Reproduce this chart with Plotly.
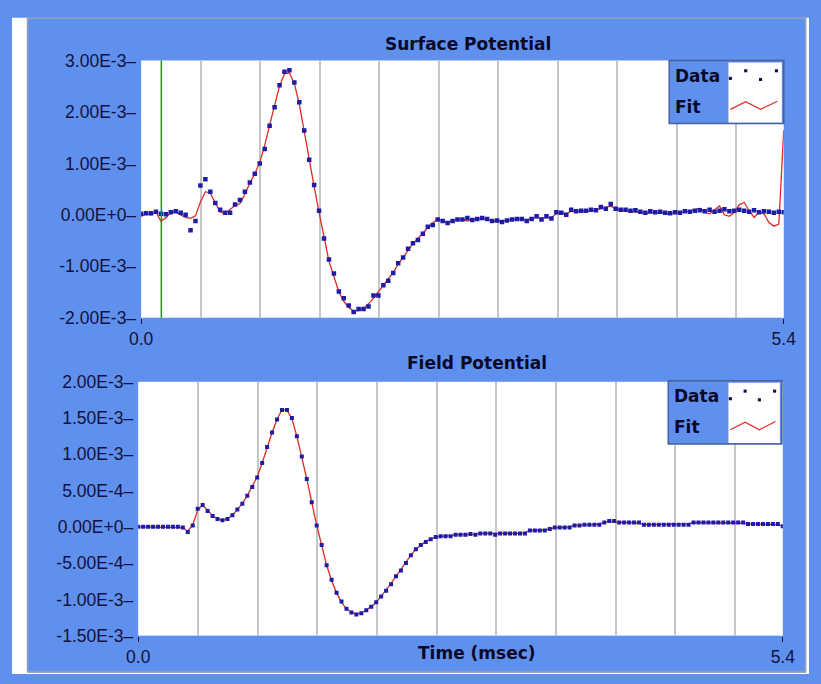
import numpy as np
import plotly.graph_objects as go

W, H = 821, 684
SCALE = 1e-3
T_MAX = 5.4
CURSOR_T = 0.17
GRID_STEP = 0.5

# ---- data (values in units of 1e-3) ----
surface_data = [
    0.02, 0.03, 0.03, 0.06, 0.02, 0.01, 0.05, 0.07, 0.04, 0.00,
    -0.30, -0.12, 0.57, 0.69, 0.45, 0.23, 0.10, 0.04, 0.04, 0.20,
    0.29, 0.45, 0.63, 0.80, 1.00, 1.28, 1.73, 2.09, 2.52, 2.78,
    2.81, 2.57, 2.19, 1.64, 1.07, 0.58, 0.08, -0.46, -0.87, -1.14,
    -1.49, -1.62, -1.76, -1.89, -1.83, -1.83, -1.78, -1.57, -1.57, -1.37,
    -1.28, -1.13, -0.94, -0.83, -0.66, -0.55, -0.49, -0.37, -0.23, -0.20,
    -0.09, -0.12, -0.16, -0.12, -0.09, -0.09, -0.06, -0.10, -0.08, -0.06,
    -0.08, -0.12, -0.11, -0.14, -0.11, -0.09, -0.08, -0.08, -0.12, -0.08,
    -0.03, -0.09, -0.03, -0.07, 0.05, 0.04, 0.00, 0.10, 0.07, 0.08,
    0.08, 0.10, 0.09, 0.15, 0.12, 0.21, 0.12, 0.10, 0.10, 0.08,
    0.09, 0.06, 0.04, 0.07, 0.05, 0.06, 0.04, 0.03, 0.05, 0.04,
    0.07, 0.06, 0.08, 0.09, 0.07, 0.10, 0.06, 0.08, 0.11, 0.07,
    0.08, 0.10, 0.08, 0.06, 0.09, 0.05, 0.07, 0.06, 0.04, 0.06,
    0.05,
]
surface_fit = [
    -0.03, 0.02, 0.00, 0.05, -0.12, -0.06, 0.05, 0.05, 0.00, -0.05,
    -0.07, -0.02, 0.25, 0.45, 0.42, 0.22, 0.05, 0.03, 0.10, 0.18,
    0.22, 0.40, 0.62, 0.80, 1.02, 1.35, 1.75, 2.15, 2.50, 2.74,
    2.76, 2.55, 2.15, 1.62, 1.05, 0.55, 0.05, -0.45, -0.90, -1.20,
    -1.50, -1.68, -1.80, -1.87, -1.86, -1.82, -1.73, -1.62, -1.50, -1.38,
    -1.26, -1.12, -0.96, -0.82, -0.68, -0.56, -0.46, -0.35, -0.25, -0.16,
    -0.08, -0.12, -0.14, -0.12, -0.10, -0.09, -0.12, -0.09, -0.08, -0.07,
    -0.09, -0.12, -0.13, -0.12, -0.10, -0.09, -0.09, -0.08, -0.10, -0.08,
    -0.05, -0.07, -0.05, -0.06, 0.03, 0.04, 0.02, 0.07, 0.06, 0.07,
    0.08, 0.09, 0.09, 0.12, 0.14, 0.17, 0.12, 0.09, 0.08, 0.07,
    0.06, 0.05, 0.03, 0.04, 0.03, 0.04, 0.03, 0.02, 0.04, 0.05,
    0.06, 0.07, 0.10, 0.13, 0.05, 0.02, 0.10, 0.17, 0.00, -0.03,
    0.05, 0.20, 0.24, 0.08, -0.05, 0.05, 0.02, -0.15, -0.22, -0.18,
    1.65,
]
field_data = [
    0.00, 0.00, 0.00, 0.00, 0.00, 0.00, 0.00, 0.00, 0.00, -0.01,
    -0.07, 0.02, 0.25, 0.30, 0.22, 0.15, 0.11, 0.09, 0.11, 0.16,
    0.24, 0.32, 0.43, 0.55, 0.68, 0.88, 1.10, 1.30, 1.48, 1.61,
    1.61, 1.50, 1.25, 0.97, 0.66, 0.34, 0.02, -0.25, -0.53, -0.73,
    -0.91, -1.03, -1.13, -1.18, -1.21, -1.19, -1.15, -1.10, -1.04, -0.96,
    -0.88, -0.79, -0.68, -0.60, -0.50, -0.39, -0.31, -0.25, -0.21, -0.17,
    -0.14, -0.13, -0.13, -0.13, -0.11, -0.11, -0.11, -0.10, -0.11, -0.09,
    -0.09, -0.09, -0.11, -0.09, -0.09, -0.09, -0.09, -0.09, -0.09, -0.05,
    -0.05, -0.05, -0.05, -0.03, -0.01, -0.01, -0.01, -0.01, 0.02, 0.02,
    0.03, 0.03, 0.03, 0.03, 0.06, 0.08, 0.08, 0.06, 0.06, 0.06,
    0.06, 0.06, 0.03, 0.03, 0.03, 0.03, 0.03, 0.03, 0.03, 0.03,
    0.03, 0.03, 0.06, 0.06, 0.06, 0.06, 0.06, 0.06, 0.06, 0.06,
    0.06, 0.06, 0.06, 0.04, 0.04, 0.04, 0.04, 0.04, 0.04, 0.04,
    0.01,
]
field_fit = [
    0.00, 0.00, 0.00, 0.00, 0.00, 0.00, 0.00, 0.00, 0.00, -0.01,
    -0.06, 0.03, 0.23, 0.30, 0.23, 0.15, 0.11, 0.09, 0.11, 0.16,
    0.24, 0.32, 0.43, 0.55, 0.69, 0.88, 1.10, 1.30, 1.48, 1.62,
    1.61, 1.49, 1.25, 0.97, 0.66, 0.34, 0.02, -0.25, -0.53, -0.74,
    -0.91, -1.04, -1.13, -1.18, -1.20, -1.19, -1.15, -1.10, -1.04, -0.96,
    -0.87, -0.78, -0.68, -0.59, -0.49, -0.39, -0.31, -0.25, -0.20, -0.17,
    -0.14, -0.13, -0.13, -0.12, -0.11, -0.11, -0.11, -0.10, -0.10, -0.09,
    -0.09, -0.09, -0.10, -0.09, -0.09, -0.09, -0.09, -0.09, -0.08, -0.05,
    -0.05, -0.05, -0.04, -0.03, -0.01, -0.01, -0.01, 0.00, 0.02, 0.02,
    0.03, 0.03, 0.03, 0.04, 0.06, 0.08, 0.07, 0.06, 0.06, 0.06,
    0.06, 0.05, 0.03, 0.03, 0.03, 0.03, 0.03, 0.03, 0.03, 0.03,
    0.03, 0.04, 0.06, 0.06, 0.06, 0.06, 0.06, 0.06, 0.06, 0.06,
    0.06, 0.06, 0.05, 0.04, 0.04, 0.04, 0.04, 0.04, 0.04, 0.03,
    0.01,
]
time_ms = np.linspace(0.0, T_MAX, len(surface_data))

surface_ticks = [-2e-3, -1e-3, 0.0, 1e-3, 2e-3, 3e-3]
surface_ticktext = ["-2.00E-3", "-1.00E-3", "0.00E+0", "1.00E-3", "2.00E-3", "3.00E-3"]
field_ticks = [-1.5e-3, -1e-3, -5e-4, 0.0, 5e-4, 1e-3, 1.5e-3, 2e-3]
field_ticktext = ["-1.50E-3", "-1.00E-3", "-5.00E-4", "0.00E+0", "5.00E-4",
                  "1.00E-3", "1.50E-3", "2.00E-3"]
x_tickvals = [0.0, T_MAX]
x_ticktext = ["0.0", "5.4"]

# legend sample glyphs (normalised inside the little white box)
legend_dots_x = [0.0, 0.31, 0.61, 0.93]
legend_dots_y = [0.76, 0.90, 0.74, 0.90]
legend_line_x = [0.0, 0.31, 0.61, 0.95]
legend_line_y = [0.19, 0.33, 0.19, 0.34]

# ---- style ----
BLUE = "#6090EE"
TEXT = "#12123C"
DOT = "#1C1CA8"
RED = "#E02A22"
GRID = "#C6C6C6"
TICK_FONT = dict(family="Liberation Sans, Arial, sans-serif", size=17.5, color=TEXT)
BOLD_FONT = dict(family="DejaVu Sans, sans-serif", size=17, color="#0A0A28")


def px(x):
    return x / W


def py(y):
    return 1 - y / H


fig = go.Figure()

surf = np.array(surface_data) * SCALE
surf_fit = np.array(surface_fit) * SCALE
fld = np.array(field_data) * SCALE
fld_fit = np.array(field_fit) * SCALE

fig.add_trace(go.Scatter(x=time_ms, y=surf_fit, mode="lines", name="Fit",
                         line=dict(color=RED, width=1.3), xaxis="x", yaxis="y"))
fig.add_trace(go.Scatter(x=time_ms, y=surf, mode="markers", name="Data",
                         marker=dict(symbol="square", size=4.5, color=DOT, line=dict(width=0)),
                         xaxis="x", yaxis="y"))
fig.add_trace(go.Scatter(x=time_ms, y=fld_fit, mode="lines", name="Fit",
                         line=dict(color=RED, width=1.3), xaxis="x2", yaxis="y2"))
fig.add_trace(go.Scatter(x=time_ms, y=fld, mode="markers", name="Data",
                         marker=dict(symbol="square", size=4, color=DOT, line=dict(width=0)),
                         xaxis="x2", yaxis="y2"))

xcommon = dict(range=[0, T_MAX], tickmode="array", tickvals=x_tickvals, ticktext=x_ticktext,
               ticks="outside", ticklen=5, tickwidth=1, tickcolor=TEXT, tickfont=TICK_FONT,
               showgrid=False, zeroline=False, showline=False, fixedrange=True,
               minor=dict(tickmode="linear", tick0=0, dtick=GRID_STEP, showgrid=True,
                          gridcolor=GRID, gridwidth=1.6, ticks=""))
ycommon = dict(tickmode="array", ticks="", tickfont=TICK_FONT, showgrid=False,
               zeroline=False, showline=False, fixedrange=True, ticklabelstandoff=4)

fig.update_layout(
    width=W, height=H, autosize=False,
    margin=dict(l=0, r=0, t=0, b=0, pad=0),
    paper_bgcolor=BLUE, plot_bgcolor="white",
    showlegend=False,
    xaxis=dict(domain=[px(133), px(795)], anchor="y", **xcommon),
    yaxis=dict(domain=[py(317), py(52)], anchor="x", range=[-2e-3, 3e-3],
               tickvals=surface_ticks, ticktext=[t + "–" for t in surface_ticktext], **ycommon),
    xaxis2=dict(domain=[px(130), px(794)], anchor="y2", **xcommon),
    yaxis2=dict(domain=[py(644.5), py(383)], anchor="x2", range=[-1.5e-3, 2e-3],
                tickvals=field_ticks, ticktext=[t + "–" for t in field_ticktext], **ycommon),
)

shapes = []
# outer window frame
shapes.append(dict(type="rect", xref="paper", yref="paper", x0=0, x1=px(15.5), y0=0, y1=py(8),
                   fillcolor="white", line=dict(width=0), layer="below"))
shapes.append(dict(type="rect", xref="paper", yref="paper", x0=0, x1=1, y0=0, y1=py(682.5),
                   fillcolor="white", line=dict(width=0), layer="below"))
shapes.append(dict(type="rect", xref="paper", yref="paper", x0=px(818), x1=1, y0=0, y1=py(8),
                   fillcolor="white", line=dict(width=0), layer="below"))
for (x0, y0, x1, y1) in ((16, 8.5, 818, 8.5), (16, 8.5, 16, 682), (16, 682, 818, 682),
                         (817.5, 8.5, 817.5, 682)):
    shapes.append(dict(type="line", xref="paper", yref="paper", x0=px(x0), x1=px(x1),
                       y0=py(y0), y1=py(y1), line=dict(color="#9AA0B0", width=1.5)))
# cursor
shapes.append(dict(type="line", xref="x", yref="y domain", x0=CURSOR_T, x1=CURSOR_T, y0=0, y1=1,
                   line=dict(color="#1E961E", width=1.5)))

# legend boxes: (outer box, white sample area)
legend_boxes = [((677, 52, 795, 117), (738, 54, 793, 116)),
                ((676, 382, 793, 447), (738, 384, 791, 446))]
for (bx0, by0, bx1, by1), (gx0, gy0, gx1, gy1) in legend_boxes:
    shapes.append(dict(type="rect", xref="paper", yref="paper", x0=px(bx0), x1=px(bx1),
                       y0=py(by1), y1=py(by0), fillcolor=BLUE,
                       line=dict(color="#46609A", width=1.5), layer="above"))
    shapes.append(dict(type="rect", xref="paper", yref="paper", x0=px(gx0), x1=px(gx1),
                       y0=py(gy1), y1=py(gy0), fillcolor="white",
                       line=dict(width=0), layer="above"))
    gw, gh = gx1 - gx0 - 4, gy1 - gy0 - 6
    for dx, dy in zip(legend_dots_x, legend_dots_y):
        cx, cy = gx0 + 2 + dx * gw, gy1 - 3 - dy * gh
        shapes.append(dict(type="rect", xref="paper", yref="paper",
                           x0=px(cx - 1.6), x1=px(cx + 1.6), y0=py(cy + 1.6), y1=py(cy - 1.6),
                           fillcolor="#101050", line=dict(width=0), layer="above"))
    pts = [(px(gx0 + 2 + lx * gw), py(gy1 - 3 - ly * gh))
           for lx, ly in zip(legend_line_x, legend_line_y)]
    path = "M " + " L ".join(f"{a:.5f},{b:.5f}" for a, b in pts)
    shapes.append(dict(type="path", xref="paper", yref="paper", path=path,
                       line=dict(color=RED, width=1.2), layer="above"))
fig.update_layout(shapes=shapes)

annotations = [
    dict(text="<b>Surface Potential</b>", x=px(470), y=py(35), xref="paper", yref="paper",
         showarrow=False, font=BOLD_FONT, xanchor="center", yanchor="middle"),
    dict(text="<b>Field Potential</b>", x=px(479), y=py(364), xref="paper", yref="paper",
         showarrow=False, font=BOLD_FONT, xanchor="center", yanchor="middle"),
    dict(text="<b>Time (msec)</b>", x=px(479), y=py(662), xref="paper", yref="paper",
         showarrow=False, font=BOLD_FONT, xanchor="center", yanchor="middle"),
    dict(text="<b>Data</b>", x=px(681), y=py(68), xref="paper", yref="paper",
         showarrow=False, font=BOLD_FONT, xanchor="left", yanchor="middle"),
    dict(text="<b>Fit</b>", x=px(681), y=py(100), xref="paper", yref="paper",
         showarrow=False, font=BOLD_FONT, xanchor="left", yanchor="middle"),
    dict(text="<b>Data</b>", x=px(680), y=py(398), xref="paper", yref="paper",
         showarrow=False, font=BOLD_FONT, xanchor="left", yanchor="middle"),
    dict(text="<b>Fit</b>", x=px(680), y=py(430), xref="paper", yref="paper",
         showarrow=False, font=BOLD_FONT, xanchor="left", yanchor="middle"),
]
fig.update_layout(annotations=annotations)

fig.write_html("out.html")
